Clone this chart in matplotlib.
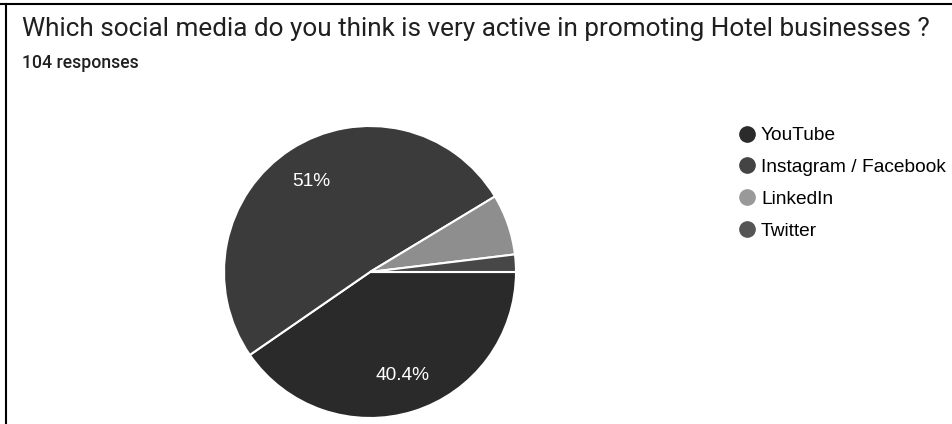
import matplotlib.pyplot as plt
from matplotlib.lines import Line2D

labels = ["YouTube", "Instagram / Facebook", "LinkedIn", "Twitter"]
counts = [42, 53, 7, 2]
colors = ["#2a2a2a", "#3b3b3b", "#8e8e8e", "#474747"]
legend_colors = ["#2b2b2b", "#444444", "#999999", "#555555"]

title = "Which social media do you think is very active in promoting Hotel businesses ?"
subtitle = "104 responses"

W, H = 952, 424
fig = plt.figure(figsize=(W / 100, H / 100), dpi=100)
fig.patch.set_facecolor("white")

# frame lines (top and left) like the cropped screenshot
fig.add_artist(Line2D([0, 1], [1 - 3.5 / H, 1 - 3.5 / H], color="black", lw=1.5))
fig.add_artist(Line2D([6 / W, 6 / W], [0, 1 - 3.5 / H], color="black", lw=1.5))

fig.text(22 / W, 1 - 29 / H, title, fontsize=18.8, family="Roboto",
         color="#202020", va="center", ha="left")
fig.text(22 / W, 1 - 63 / H, subtitle, fontsize=12.7, family="Roboto",
         color="#202020", va="center", ha="left", weight="medium")

# pie: center (370, 272), radius 146 px
cx, cy, r = 370, 272, 146
ax = fig.add_axes([(cx - r) / W, (H - cy - r) / H, 2 * r / W, 2 * r / H])


def fmt(p):
    if p < 10:
        return ""
    s = f"{p:.1f}"
    return (s[:-2] if s.endswith(".0") else s) + "%"


wedges, texts, autotexts = ax.pie(
    counts, colors=colors, startangle=0, counterclock=False,
    autopct=fmt, pctdistance=0.74,
    wedgeprops=dict(edgecolor="white", linewidth=1.5),
    textprops=dict(color="white", fontsize=13.8, family="Liberation Sans"),
)
ax.set_xlim(-1, 1)
ax.set_ylim(-1, 1)
ax.set_aspect("equal")
ax.axis("off")

handles = [Line2D([], [], marker="o", linestyle="none", markersize=11,
                  markerfacecolor=c, markeredgecolor=c) for c in legend_colors]
fig.legend(handles, labels, loc="upper left",
           bbox_to_anchor=(737 / W, 1 - 127 / H), frameon=False,
           prop=dict(family="Liberation Sans", size=13.8),
           handletextpad=0.25, labelspacing=0.75, handlelength=1.0,
           borderpad=0, borderaxespad=0)

fig.savefig("out.png", dpi=100)
